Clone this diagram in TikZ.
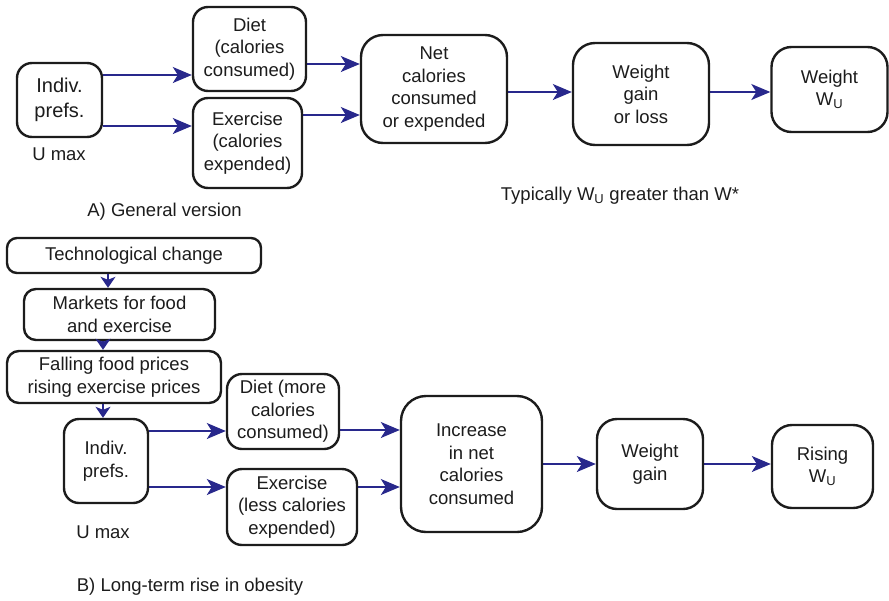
\documentclass[tikz,border=0pt]{standalone}
\usepackage{fontspec}
\setmainfont{Liberation Sans}
\usetikzlibrary{arrows.meta,backgrounds}
\definecolor{navy}{RGB}{40,40,140}
\definecolor{ink}{RGB}{28,28,28}
\begin{document}
\begin{tikzpicture}[x=1pt,y=-1pt,
  box/.style={draw=ink,line width=2.4pt,fill=white,rounded corners=#1,inner sep=0pt,
    align=center,text=ink,font=\fontsize{18.5}{22.5}\selectfont},
  box/.default=15pt,
  lbl/.style={text=ink,inner sep=0pt,font=\fontsize{18.5}{22.5}\selectfont},
  arr/.style={draw=navy,line width=1.5pt,-{Stealth[length=19pt,width=16pt,inset=5pt]}},
  varr/.style={draw=navy,line width=1.5pt,-{Stealth[length=11pt,width=15pt,inset=3pt]}}]
\useasboundingbox (0,0) rectangle (889,600);
% Part A
\node[box, minimum width=85pt, minimum height=74pt, font=\fontsize{20}{25}\selectfont] (indA) at (59.5,100) {Indiv.\\prefs.};
\node[lbl] (umaxA) at (59,154) {U max};
\node[box, minimum width=113pt, minimum height=84pt] (dietA) at (249.5,49) {Diet\\(calories\\consumed)};
\node[box, minimum width=109pt, minimum height=90pt] (exA) at (247.5,143) {Exercise\\(calories\\expended)};
\node[box=22pt, minimum width=146pt, minimum height=108pt] (netA) at (434,89) {Net\\calories\\consumed\\or expended};
\node[box=22pt, minimum width=136pt, minimum height=102pt] (wgA) at (641,94) {Weight\\gain\\or loss};
\node[box=20pt, minimum width=116pt, minimum height=85pt] (wuA) at (829.5,89.5) {Weight\\W\textsubscript{U}};
\node[lbl] (typ) at (620,196) {Typically W\textsubscript{U} greater than W*};
\node[lbl] (capA) at (164.5,212) {A) General version};
% Part B
\node[box=10pt, minimum width=254pt, minimum height=35pt] (tech) at (134,255.5) {Technological change};
\node[box=12pt, minimum width=191pt, minimum height=51pt] (mkt) at (119.5,314.5) {Markets for food\\and exercise};
\node[box=12pt, minimum width=214pt, minimum height=52pt] (fall) at (114,377) {Falling food prices\\rising exercise prices};
\node[box, minimum width=84pt, minimum height=84pt] (indB) at (106,461) {Indiv.\\prefs.};
\node[lbl] (umaxB) at (103,532) {U max};
\node[box, minimum width=112pt, minimum height=75pt] (dietB) at (283,411.5) {Diet (more\\calories\\consumed)};
\node[box, minimum width=130pt, minimum height=76pt] (exB) at (292,507) {Exercise\\(less calories\\expended)};
\node[box=25pt, minimum width=141pt, minimum height=136pt] (incB) at (471.5,464) {Increase\\in net\\calories\\consumed};
\node[box=20pt, minimum width=106pt, minimum height=90pt] (wgB) at (650,464) {Weight\\gain};
\node[box=20pt, minimum width=101pt, minimum height=83pt] (riseB) at (822.5,466.5) {Rising\\W\textsubscript{U}};
\node[lbl] (capB) at (190,587) {B) Long-term rise in obesity};
\begin{scope}[on background layer]
\draw[arr] (indA.east |- 0,75) -- (dietA.west |- 0,75);
\draw[arr] (indA.east |- 0,126) -- (exA.west |- 0,126);
\draw[arr] (dietA.east |- 0,64) -- (netA.west |- 0,64);
\draw[arr] (exA.east |- 0,115) -- (netA.west |- 0,115);
\draw[arr] (netA.east |- 0,92) -- (wgA.west |- 0,92);
\draw[arr] (wgA.east |- 0,92) -- (wuA.west |- 0,92);
\draw[arr] (indB.east |- 0,431) -- (dietB.west |- 0,431);
\draw[arr] (indB.east |- 0,487) -- (exB.west |- 0,487);
\draw[arr] (dietB.east |- 0,430) -- (incB.west |- 0,430);
\draw[arr] (exB.east |- 0,487) -- (incB.west |- 0,487);
\draw[arr] (incB.east |- 0,464) -- (wgB.west |- 0,464);
\draw[arr] (wgB.east |- 0,464) -- (riseB.west |- 0,464);
\end{scope}
\draw[varr] (tech.south -| 108,0) -- (mkt.north -| 108,0);
\draw[varr] (mkt.south -| 103,0) -- (fall.north -| 103,0);
\draw[varr] (fall.south -| 103,0) -- (indB.north -| 103,0);
\end{tikzpicture}
\end{document}
